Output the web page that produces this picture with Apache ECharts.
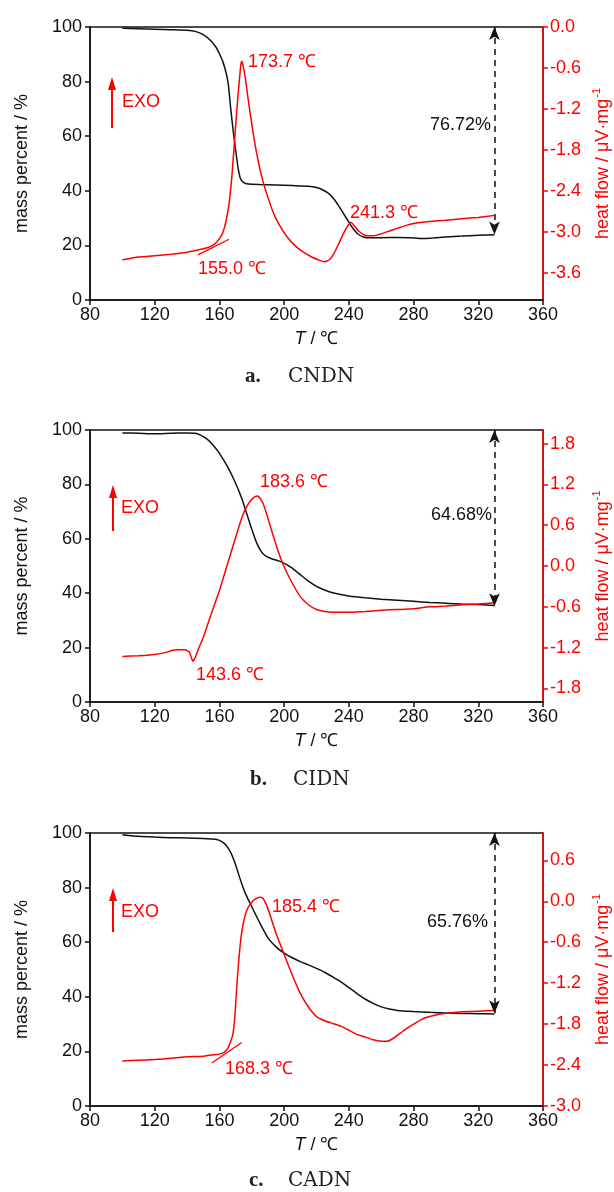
<!DOCTYPE html>
<html>
<head>
<meta charset="utf-8">
<title>TG-DSC</title>
<script src="https://cdn.jsdelivr.net/npm/echarts@6/dist/echarts.min.js"></script>
<style>
  html, body { margin: 0; padding: 0; background: #fff; }
  #chart { width: 614px; height: 1192px; }
</style>
</head>
<body>
<div id="chart"></div>
<script>
// a. CNDN
const massTempA = [100, 110, 120, 130, 140, 145, 150, 155, 158, 160, 162, 164, 165.5, 167, 168.5, 170, 171.5, 173, 175, 178, 185, 195, 205, 215, 220, 224, 228, 231, 234, 237, 240, 243, 246, 249, 253, 260, 270, 278, 285, 292, 300, 310, 320, 330];
const massA = [99.5, 99.4, 99.2, 99.0, 98.8, 98.4, 97.2, 94.8, 92.5, 90.2, 87.5, 83.5, 79, 70, 62, 55, 48.5, 44.5, 43.0, 42.5, 42.3, 42.1, 41.9, 41.7, 41.2, 40.3, 38.8, 36.8, 34.2, 31.4, 28.5, 25.8, 24.0, 23.1, 22.8, 22.8, 22.9, 22.8, 22.5, 22.7, 23.1, 23.4, 23.7, 23.9];
const heatTempA = [100, 110, 120, 130, 140, 148, 153, 157, 160, 162, 164, 166, 168, 170, 171.5, 173, 173.7, 174.5, 176, 178, 181, 184, 187, 190, 194, 198, 202, 207, 212, 217, 222, 225, 228, 231, 234, 237, 240, 241.3, 243, 246, 250, 255, 260, 265, 270, 275, 280, 290, 300, 310, 320, 330];
const heatA = [-3.41, -3.37, -3.35, -3.33, -3.30, -3.26, -3.23, -3.18, -3.10, -3.02, -2.85, -2.58, -2.10, -1.45, -1.0, -0.60, -0.50, -0.55, -0.75, -1.10, -1.58, -1.97, -2.27, -2.50, -2.76, -2.94, -3.08, -3.21, -3.30, -3.37, -3.42, -3.44, -3.41, -3.31, -3.16, -3.01, -2.89, -2.86, -2.90, -2.99, -3.05, -3.06, -3.03, -2.99, -2.95, -2.91, -2.88, -2.85, -2.83, -2.81, -2.79, -2.76];
const tangentA = [[146.7, -3.34], [165.9, -3.11]];
const lossA = [330, 100, 24.0];

// b. CIDN
const massTempB = [100, 110, 120, 130, 140, 145, 148, 152, 156, 160, 165, 170, 174, 177, 180, 183, 186, 189, 193, 197, 201, 205, 210, 215, 220, 225, 230, 240, 250, 260, 270, 280, 290, 300, 310, 320, 330];
const massB = [98.9, 98.8, 98.6, 98.8, 98.9, 98.8, 98.2, 96.8, 94.5, 91.4, 86.5, 80.4, 74.5, 69, 63.5, 58.5, 55.2, 53.5, 52.5, 51.8, 50.7, 49.2, 46.8, 44.4, 42.5, 41.2, 40.2, 39.0, 38.3, 37.8, 37.4, 37.0, 36.6, 36.3, 36.0, 35.8, 35.5];
const heatTempB = [100, 110, 120, 127, 131, 135, 139, 141.5, 143.6, 145, 147, 150, 155, 160, 165, 170, 174, 177, 180, 182, 183.6, 185, 187, 189, 192, 196, 200, 205, 210, 215, 220, 225, 230, 240, 250, 260, 270, 280, 290, 300, 310, 320, 330];
const heatB = [-1.33, -1.32, -1.30, -1.27, -1.24, -1.23, -1.23, -1.27, -1.40, -1.35, -1.22, -1.05, -0.70, -0.36, 0.03, 0.42, 0.72, 0.88, 0.98, 1.02, 1.03, 1.00, 0.92, 0.78, 0.54, 0.24, -0.01, -0.25, -0.45, -0.57, -0.64, -0.67, -0.68, -0.68, -0.67, -0.65, -0.64, -0.63, -0.60, -0.59, -0.57, -0.56, -0.54];
const lossB = [330, 100, 35.2];

// c. CADN
const massTempC = [100, 110, 120, 130, 140, 150, 156, 160, 163, 165, 167, 169, 171, 173, 176, 180, 185, 190, 195, 200, 205, 210, 215, 220, 225, 230, 235, 240, 245, 250, 255, 260, 265, 270, 280, 290, 300, 310, 320, 330];
const massC = [99.4, 98.8, 98.5, 98.3, 98.2, 98.0, 97.8, 97.3, 96.2, 94.8, 92.8, 90.0, 86.5, 82.8, 77.9, 73.0, 67.0, 61.6, 58.3, 56.0, 54.3, 52.9, 51.7, 50.4, 49.0, 47.3, 45.5, 43.4, 41.2, 39.2, 37.6, 36.3, 35.5, 35.0, 34.6, 34.3, 34.1, 33.9, 33.8, 33.7];
const heatTempC = [100, 110, 120, 130, 140, 150, 156, 160, 163, 165, 167, 168.3, 169.5, 171, 172.5, 174, 176, 178, 181, 183.5, 185.4, 187, 189, 191, 195, 200, 205, 210, 215, 220, 225, 230, 235, 240, 245, 250, 255, 260, 264, 268, 272, 276, 280, 285, 290, 295, 300, 310, 320, 330];
const heatC = [-2.34, -2.33, -2.32, -2.30, -2.28, -2.27, -2.25, -2.24, -2.21, -2.16, -2.05, -1.95, -1.70, -1.15, -0.72, -0.42, -0.20, -0.08, 0.01, 0.05, 0.06, 0.04, -0.05, -0.18, -0.47, -0.78, -1.08, -1.35, -1.55, -1.69, -1.75, -1.79, -1.83, -1.89, -1.95, -1.99, -2.03, -2.05, -2.05, -2.00, -1.93, -1.86, -1.80, -1.73, -1.69, -1.66, -1.64, -1.62, -1.61, -1.60];
const tangentC = [[155.2, -2.37], [173.8, -2.07]];
const lossC = [330, 100, 34.0];

// axis ticks
const tempTicks = [80, 120, 160, 200, 240, 280, 320, 360];
const massTicks = [0, 20, 40, 60, 80, 100];
const heatTicksA = [-3.6, -3.0, -2.4, -1.8, -1.2, -0.6, 0.0];
const heatTicksB = [-1.8, -1.2, -0.6, 0.0, 0.6, 1.2, 1.8];
const heatTicksC = [-3.0, -2.4, -1.8, -1.2, -0.6, 0.0, 0.6];
const heatRangeA = [-4.0, 0.0];
const heatRangeB = [-2.0, 2.0];
const heatRangeC = [-3.0, 1.0];

const FONT = '"Liberation Sans", Arial, sans-serif';
const FS = 18;
const RED = '#ff0000';
const BLACK = '#111';

const panels = [
    { top: 27, height: 273, mT: massTempA, m: massA, hT: heatTempA, h: heatA, tangent: tangentA, loss: lossA, hTicks: heatTicksA, hRange: heatRangeA },
    { top: 430, height: 272, mT: massTempB, m: massB, hT: heatTempB, h: heatB, tangent: null, loss: lossB, hTicks: heatTicksB, hRange: heatRangeB },
    { top: 833, height: 273, mT: massTempC, m: massC, hT: heatTempC, h: heatC, tangent: tangentC, loss: lossC, hTicks: heatTicksC, hRange: heatRangeC }
];

function pairs(xs, ys) {
    return xs.map((x, i) => [x, ys[i]]);
}

function fmtHeat(v) {
    if (Math.abs(v) < 1e-9) return '0.0';
    return v.toFixed(1);
}

const grid = [];
const xAxis = [];
const yAxis = [];
const series = [];

panels.forEach((p, i) => {
    grid.push({
        left: 90, top: p.top, width: 453, height: p.height,
        outerBoundsMode: 'none', containLabel: false,
        show: true, borderColor: BLACK, borderWidth: 1.5, backgroundColor: 'transparent'
    });

    xAxis.push({
        type: 'value', gridIndex: i,
        min: tempTicks[0], max: tempTicks[tempTicks.length - 1], interval: 40,
        name: '{i|T} / ℃', nameLocation: 'middle', nameGap: 30,
        nameTextStyle: { fontFamily: FONT, fontSize: FS, color: BLACK, rich: { i: { fontStyle: 'italic', fontFamily: FONT, fontSize: FS, color: BLACK } } },
        axisLine: { lineStyle: { color: BLACK, width: 1.5 } },
        axisTick: { length: 5, lineStyle: { color: BLACK, width: 1.5 } },
        axisLabel: { fontFamily: FONT, fontSize: FS, color: BLACK, margin: 6 },
        splitLine: { show: false }
    });

    yAxis.push({
        type: 'value', gridIndex: i, position: 'left',
        min: massTicks[0], max: massTicks[massTicks.length - 1], interval: 20,
        name: 'mass percent / %', nameLocation: 'middle', nameGap: 59, nameRotate: 90,
        nameTextStyle: { fontFamily: FONT, fontSize: FS, color: BLACK },
        axisLine: { show: true, lineStyle: { color: BLACK, width: 1.5 } },
        axisTick: { show: true, length: 5, lineStyle: { color: BLACK, width: 1.5 } },
        axisLabel: { fontFamily: FONT, fontSize: FS, color: BLACK, margin: 8 },
        splitLine: { show: false }
    });

    yAxis.push({
        type: 'value', gridIndex: i, position: 'right',
        min: p.hRange[0], max: p.hRange[1],
        name: '{a|heat flow / μV·mg}{s|-1}', nameLocation: 'middle', nameGap: 48, nameRotate: 90,
        nameTextStyle: {
            fontFamily: FONT, fontSize: FS, color: RED,
            rich: {
                a: { fontFamily: FONT, fontSize: FS, color: RED },
                s: { fontFamily: FONT, fontSize: 11, color: RED, verticalAlign: 'top', padding: [0, 0, 11, 1] }
            }
        },
        axisLine: { show: true, lineStyle: { color: RED, width: 1.5 } },
        axisTick: { show: true, length: 5, customValues: p.hTicks, lineStyle: { color: RED, width: 1.5 } },
        axisLabel: { fontFamily: FONT, fontSize: FS, color: RED, margin: 7, customValues: p.hTicks, formatter: fmtHeat },
        splitLine: { show: false }
    });

    series.push({
        type: 'line', xAxisIndex: i, yAxisIndex: i * 2,
        data: pairs(p.mT, p.m), showSymbol: false, symbol: 'none',
        smooth: 0.15,
        lineStyle: { color: BLACK, width: 1.5 }, z: 3,
        markLine: {
            silent: true,
            symbol: ['arrow', 'arrow'], symbolSize: [8, 13],
            label: { show: false },
            lineStyle: { color: BLACK, width: 1.5, type: [6, 5] },
            data: [[{ coord: [p.loss[0], p.loss[1]] }, { coord: [p.loss[0], p.loss[2]] }]]
        }
    });

    series.push({
        type: 'line', xAxisIndex: i, yAxisIndex: i * 2 + 1,
        data: pairs(p.hT, p.h), showSymbol: false, symbol: 'none',
        smooth: 0.15,
        lineStyle: { color: RED, width: 1.5 }, z: 4
    });

    if (p.tangent) {
        series.push({
            type: 'line', xAxisIndex: i, yAxisIndex: i * 2 + 1,
            data: p.tangent, showSymbol: false, symbol: 'none',
            lineStyle: { color: RED, width: 1.3 }, z: 4
        });
    }
});

function label(x, y, text, color) {
    return {
        type: 'text', x: x, y: y, z: 10,
        style: { text: text, fill: color, fontFamily: FONT, fontSize: FS, align: 'left', verticalAlign: 'middle' }
    };
}

function exoArrow(x, yTop, yBottom) {
    return [
        { type: 'line', z: 10, shape: { x1: x, y1: yBottom, x2: x, y2: yTop + 10 }, style: { stroke: RED, lineWidth: 2 } },
        { type: 'polygon', z: 10, shape: { points: [[x - 4, yTop + 13], [x + 4, yTop + 13], [x, yTop]] }, style: { fill: RED } }
    ];
}

function caption(xa, xn, y, letter, name) {
    return [
        { type: 'text', x: xa, y: y, style: { text: letter, fill: '#222', fontFamily: '"Liberation Serif", serif', fontSize: 21, fontWeight: 'bold', verticalAlign: 'middle' } },
        { type: 'text', x: xn, y: y, style: { text: name, fill: '#222', fontFamily: '"DejaVu Serif", serif', fontSize: 20, verticalAlign: 'middle' } }
    ];
}

const graphic = [].concat(
    label(248, 62, '173.7 ℃', RED),
    label(122, 102, 'EXO', RED),
    label(198, 269, '155.0 ℃', RED),
    label(350, 213, '241.3 ℃', RED),
    label(430, 125, '76.72%', BLACK),
    exoArrow(112, 77, 128),
    caption(245, 288, 377, 'a.', 'CNDN'),

    label(260, 482, '183.6 ℃', RED),
    label(121, 508, 'EXO', RED),
    label(196, 675, '143.6 ℃', RED),
    label(431, 515, '64.68%', BLACK),
    exoArrow(113, 485, 531),
    caption(250, 293, 780, 'b.', 'CIDN'),

    label(272, 907, '185.4 ℃', RED),
    label(121, 912, 'EXO', RED),
    label(225, 1069, '168.3 ℃', RED),
    label(427, 922, '65.76%', BLACK),
    exoArrow(113, 888, 932),
    caption(249, 288, 1181, 'c.', 'CADN')
);

const chart = echarts.init(document.getElementById('chart'));
chart.setOption({
    animation: false,
    backgroundColor: '#fff',
    grid: grid,
    xAxis: xAxis,
    yAxis: yAxis,
    series: series,
    graphic: graphic
});
</script>
</body>
</html>
